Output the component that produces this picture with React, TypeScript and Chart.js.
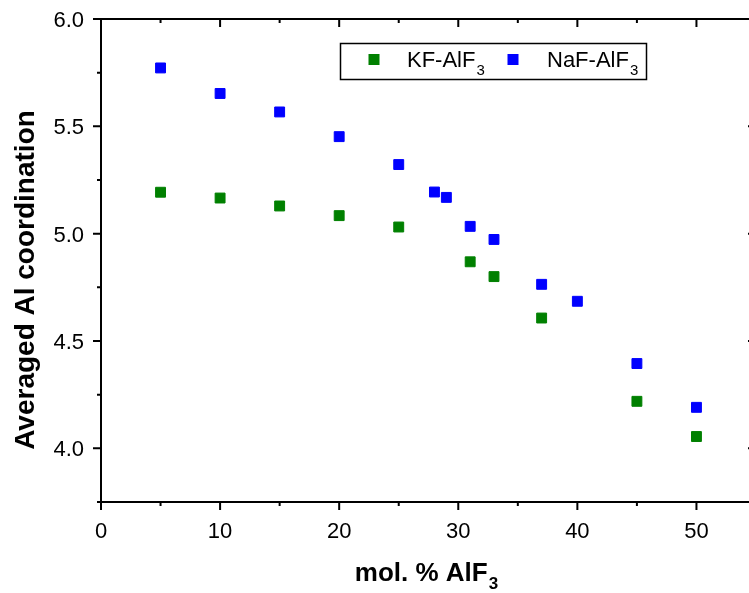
import React, { useEffect, useRef } from "react";
import { Chart, registerables } from "chart.js";

Chart.register(...registerables);

const kfX = [5, 10, 15, 20, 25, 31, 33, 37, 45, 50];
const kfY = [5.193, 5.166, 5.129, 5.084, 5.031, 4.869, 4.8, 4.607, 4.219, 4.055];
const nafX = [5, 10, 15, 20, 25, 28, 29, 31, 33, 37, 40, 45, 50];
const nafY = [5.772, 5.653, 5.567, 5.452, 5.322, 5.194, 5.169, 5.034, 4.973, 4.764, 4.685, 4.395, 4.191];

const xMajorTicks = [0, 10, 20, 30, 40, 50];
const xMinorTicks = [5, 15, 25, 35, 45, 55];
const yMajorTicks = [4.0, 4.5, 5.0, 5.5, 6.0];
const yMinorTicks = [3.75, 4.25, 4.75, 5.25, 5.75];

const seriesNames = ["KF-AlF", "NaF-AlF"];
const seriesSub = ["3", "3"];
const xTitle = "mol. % AlF";
const xTitleSub = "3";
const yTitle = "Averaged Al coordination";

const FONT = "'Liberation Sans', Arial, sans-serif";
const GREEN = "#008000";
const BLUE = "#0000FF";

const framePlugin = {
  id: "originFrame",
  afterDatasetsDraw(chart: any) {
    const ctx = chart.ctx as CanvasRenderingContext2D;
    const { left, right, top, bottom } = chart.chartArea;
    const xs = chart.scales.x;
    const ys = chart.scales.y;
    ctx.save();
    ctx.strokeStyle = "#000";
    ctx.fillStyle = "#000";
    ctx.lineWidth = 2;
    ctx.beginPath();
    ctx.rect(left, top, right - left, bottom - top);
    ctx.stroke();

    const MAJ = 8;
    const MIN = 4;
    ctx.beginPath();
    xMajorTicks.forEach((v) => {
      const px = xs.getPixelForValue(v);
      ctx.moveTo(px, bottom);
      ctx.lineTo(px, bottom + MAJ);
      ctx.moveTo(px, top);
      ctx.lineTo(px, top + MAJ);
    });
    xMinorTicks.forEach((v) => {
      const px = xs.getPixelForValue(v);
      ctx.moveTo(px, bottom);
      ctx.lineTo(px, bottom + MIN);
      ctx.moveTo(px, top);
      ctx.lineTo(px, top + MIN);
    });
    yMajorTicks.forEach((v) => {
      const py = ys.getPixelForValue(v);
      ctx.moveTo(left, py);
      ctx.lineTo(left - MAJ, py);
      ctx.moveTo(right, py);
      ctx.lineTo(right - MAJ, py);
    });
    yMinorTicks.forEach((v) => {
      const py = ys.getPixelForValue(v);
      ctx.moveTo(left, py);
      ctx.lineTo(left - MIN, py);
      ctx.moveTo(right, py);
      ctx.lineTo(right - MIN, py);
    });
    ctx.stroke();

    // tick labels
    ctx.font = `22px ${FONT}`;
    ctx.textAlign = "center";
    ctx.textBaseline = "alphabetic";
    xMajorTicks.forEach((v) => {
      ctx.fillText(String(v), xs.getPixelForValue(v), bottom + 36);
    });
    ctx.textAlign = "right";
    yMajorTicks.forEach((v) => {
      ctx.fillText(v.toFixed(1), left - 17, ys.getPixelForValue(v) + 8);
    });

    // x title
    ctx.font = `bold 26px ${FONT}`;
    const mainW = ctx.measureText(xTitle).width;
    ctx.font = `bold 17px ${FONT}`;
    const subW = ctx.measureText(xTitleSub).width;
    const startX = 426 - (mainW + subW) / 2;
    ctx.textAlign = "left";
    ctx.font = `bold 26px ${FONT}`;
    ctx.fillText(xTitle, startX, 581);
    ctx.font = `bold 17px ${FONT}`;
    ctx.fillText(xTitleSub, startX + mainW + 1, 589);

    // y title
    ctx.save();
    ctx.translate(33.5, 280);
    ctx.rotate(-Math.PI / 2);
    ctx.font = `bold 28px ${FONT}`;
    ctx.textAlign = "center";
    ctx.fillText(yTitle, 0, 0);
    ctx.restore();

    // legend
    ctx.lineWidth = 1.5;
    ctx.strokeRect(340.5, 43.5, 306, 36);
    const markerX = [374, 513];
    const textX = [407, 547];
    chart.data.datasets.forEach((ds: any, i: number) => {
      ctx.fillStyle = ds.backgroundColor;
      ctx.fillRect(markerX[i] - 5.5, 59.5 - 5.5, 11, 11);
      ctx.fillStyle = "#000";
      ctx.font = `22px ${FONT}`;
      ctx.textAlign = "left";
      ctx.fillText(seriesNames[i], textX[i], 67);
      const w = ctx.measureText(seriesNames[i]).width;
      ctx.font = `15px ${FONT}`;
      ctx.fillText(seriesSub[i], textX[i] + w + 1, 75);
    });
    ctx.restore();
  },
};

export default function App() {
  const ref = useRef<HTMLCanvasElement | null>(null);
  useEffect(() => {
    if (!ref.current) return;
    const toPts = (xs: number[], ys: number[]) => xs.map((x, i) => ({ x, y: ys[i] }));
    const chart = new Chart(ref.current, {
      type: "scatter",
      data: {
        datasets: [
          {
            label: seriesNames[0],
            data: toPts(kfX, kfY),
            backgroundColor: GREEN,
            borderColor: GREEN,
            pointStyle: "rect",
            pointRadius: 7,
            pointHoverRadius: 7,
            borderWidth: 1,
          },
          {
            label: seriesNames[1],
            data: toPts(nafX, nafY),
            backgroundColor: BLUE,
            borderColor: BLUE,
            pointStyle: "rect",
            pointRadius: 7,
            pointHoverRadius: 7,
            borderWidth: 1,
          },
        ],
      },
      options: {
        responsive: false,
        animation: false,
        layout: { padding: { left: 101, top: 19, right: 4.5, bottom: 91 } },
        plugins: { legend: { display: false }, tooltip: { enabled: false } },
        scales: {
          x: { type: "linear", min: 0, max: 55, display: false },
          y: { type: "linear", min: 3.75, max: 6.0, display: false },
        },
      },
      plugins: [framePlugin],
    });
    return () => chart.destroy();
  }, []);
  return (
    <div
      style={{
        position: "fixed",
        left: 0,
        top: 0,
        width: 749,
        height: 593,
        overflow: "hidden",
        background: "#fff",
      }}
    >
      <canvas ref={ref} width={764} height={593} style={{ display: "block" }} />
    </div>
  );
}
